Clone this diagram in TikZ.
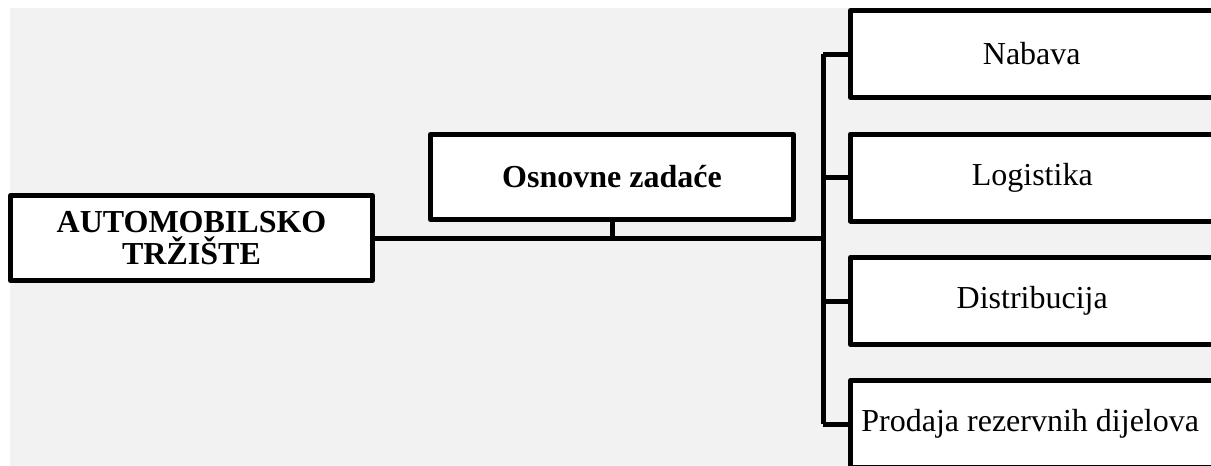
\documentclass[tikz,border=0pt]{standalone}
\usepackage{fontspec}
\setmainfont{Liberation Serif}
\begin{document}
\begin{tikzpicture}[x=1pt,y=-1pt,
  box/.style={draw=black,line width=5pt,fill=white,line join=round,inner sep=0pt,
    align=center,font=\fontsize{32}{33}\selectfont},
  leftbox/.style={box,minimum width=362pt,minimum height=85pt},
  rightbox/.style={box,minimum width=363.5pt,minimum height=87pt},
  conn/.style={draw=black,line width=5pt}]
\useasboundingbox (0,0) rectangle (1211,466);
\clip (0,0) rectangle (1211,466);
\fill[fill={rgb,255:red,242;green,242;blue,242}] (10,8) rectangle (1211,466);
\coordinate (sp1) at (823,54);
\coordinate (sp4) at (823,424);
\coordinate (j) at (823,238);
\coordinate (k) at (612,238);
\draw[conn] (sp1) -- (sp4);
\node[leftbox,font=\fontsize{32}{32}\selectfont\bfseries] (auto) at (191.5,238) {AUTOMOBILSKO\\TRŽIŠTE};
\node[leftbox,font=\fontsize{32}{33}\selectfont\bfseries,minimum width=363pt] (osn) at (612,177) {Osnovne zadaće};
\node[rightbox] (nab) at (1032.25,54) {\makebox[362pt]{\hspace{-1pt}Nabava}};
\node[rightbox] (log) at (1032.25,177.5) {\makebox[362pt]{Logistika}};
\node[rightbox] (dis) at (1032.25,301) {\makebox[362pt]{Distribucija}};
\node[rightbox] (pro) at (1032.25,424) {\makebox[362pt]{\hspace{-4pt}Prodaja rezervnih dijelova}};
\draw[conn] (auto.east) -- (j);
\draw[conn] (osn.south) -- (k);
\draw[conn] (sp1) -- (nab.west);
\draw[conn] (j |- log.west) -- (log.west);
\draw[conn] (j |- dis.west) -- (dis.west);
\draw[conn] (sp4) -- (pro.west);
\end{tikzpicture}
\end{document}
